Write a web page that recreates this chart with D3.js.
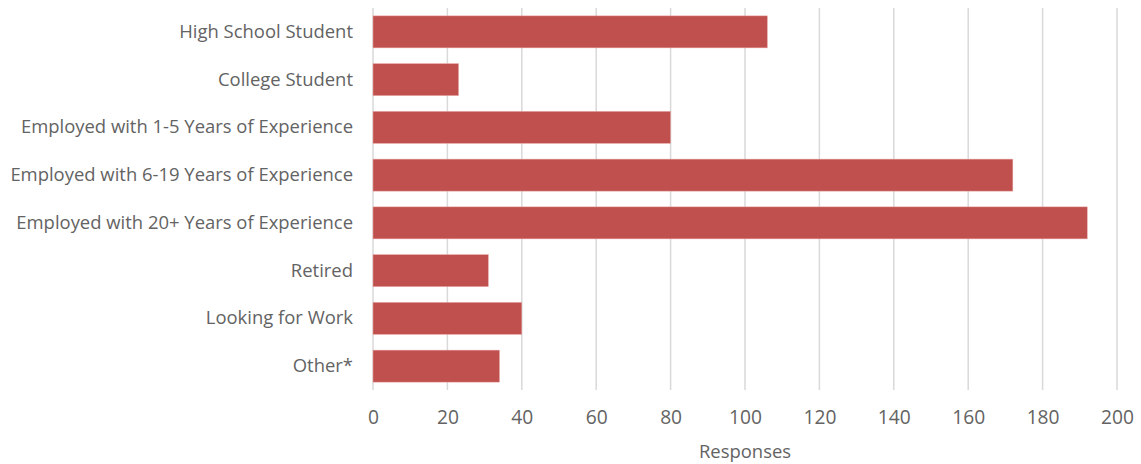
<!DOCTYPE html>
<html><head><meta charset="utf-8">
<script src="https://cdn.jsdelivr.net/npm/d3@7"></script>
<style>body{margin:0;background:#fff}</style>
</head><body>
<svg id="c" width="1141" height="464"></svg>
<script>
const categories = ["High School Student","College Student","Employed with 1-5 Years of Experience","Employed with 6-19 Years of Experience","Employed with 20+ Years of Experience","Retired","Looking for Work","Other*"];
const values = [106,23,80,172,192,31,40,34];
const ticks = [0,20,40,60,80,100,120,140,160,180,200];
const axisTitle = "Responses";

const svg = d3.select("#c");
const font = "'Open Sans', sans-serif";
const x = d3.scaleLinear().domain([0,200]).range([373,1117]);
const y = d3.scaleBand().domain(categories).range([8,390]).paddingInner(0.33).paddingOuter(0.165);

// gridlines
svg.append("g").selectAll("line").data(ticks).join("line")
  .attr("x1",d=>x(d)).attr("x2",d=>x(d)).attr("y1",8).attr("y2",390)
  .attr("stroke","#d9d9d9").attr("stroke-width",1.5);

// bars
svg.append("g").selectAll("rect").data(values).join("rect")
  .attr("x",x(0)).attr("y",(d,i)=>y(categories[i]))
  .attr("width",d=>x(d)-x(0)).attr("height",y.bandwidth())
  .attr("fill","#c0504d").attr("stroke","#e6a6a4").attr("stroke-width",0.5);

// x axis
const xa = svg.append("g").attr("transform","translate(0,390)")
  .call(d3.axisBottom(x).tickValues(ticks).tickSize(0).tickPadding(20));
xa.select(".domain").remove();
xa.selectAll("text").attr("font-family",font).attr("font-size",17).attr("fill","#636363");

// y axis
const ya = svg.append("g").attr("transform","translate(373,0)")
  .call(d3.axisLeft(y).tickSize(0).tickPadding(20));
ya.select(".domain").remove();
ya.selectAll("text").attr("font-family",font).attr("font-size",17).attr("fill","#636363");
// fit longest label width to ~343px
let maxW = 0;
ya.selectAll("text").each(function(){maxW=Math.max(maxW,this.getComputedTextLength());});
const fs = 17*343/maxW;
ya.selectAll("text").attr("font-size",fs);
xa.selectAll("text").attr("font-size",fs*1.04);

svg.append("text").attr("x",745).attr("y",458).attr("text-anchor","middle")
  .attr("font-family",font).attr("font-size",fs).attr("fill","#636363").text(axisTitle);
</script>
</body></html>
